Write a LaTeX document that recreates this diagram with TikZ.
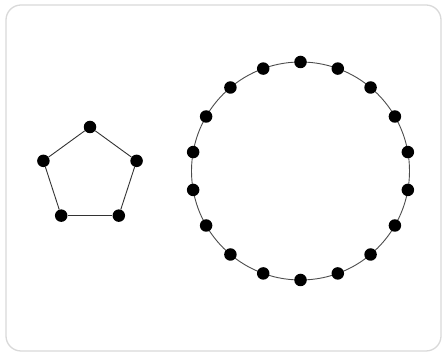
\documentclass[tikz,border=0pt]{standalone}
\usepackage{tikz}
\usetikzlibrary{calc}

\begin{document}
\begin{tikzpicture}[x=1pt, y=1pt,
    vertex/.style={circle, fill=black, inner sep=0pt, minimum size=12.5pt},
    edge/.style={line width=0.9pt, draw=black!80}
]
\useasboundingbox (0,0) rectangle (444,355);
% Frame
\draw[rounded corners=15pt, line width=1.3pt, draw=black!15] (6,4) rectangle (441,350);
% Pentagon C5
\coordinate (pc) at (90,179);
\foreach \i in {1,...,5}
    \node[vertex] (p\i) at ($(pc)+(90+72*\i-72:49)$) {};
\foreach \i [remember=\i as \j (initially 5)] in {1,...,5}
    \draw[edge] (p\j) -- (p\i);
% Cycle C18
\coordinate (cc) at (300.5,184);
\draw[edge, draw=black!70] (cc) circle (109);
\foreach \i in {1,...,18}
    \node[vertex] (c\i) at ($(cc)+(90-20*\i+20:109)$) {};
\end{tikzpicture}
\end{document}
